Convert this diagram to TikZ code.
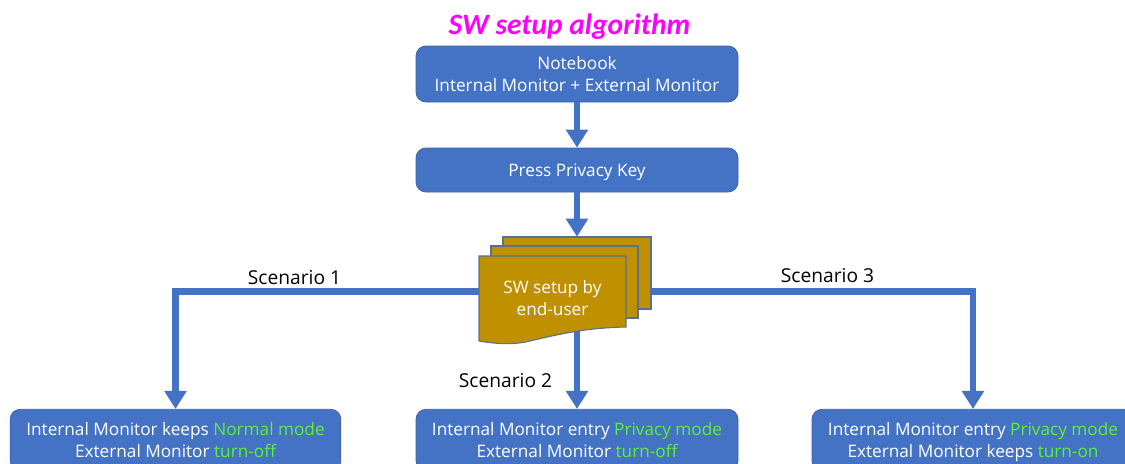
\documentclass[tikz,border=0pt]{standalone}
\usepackage{fontspec}
\setmainfont{Open Sans}
\newfontfamily\titlefont{Carlito}
\usetikzlibrary{arrows.meta}
\definecolor{boxblue}{HTML}{4472C4}
\definecolor{boxedge}{HTML}{3F62A6}
\definecolor{docgold}{HTML}{BF9000}
\definecolor{docedge}{HTML}{5B7090}
\definecolor{hi}{HTML}{5CF03C}
\definecolor{titlecol}{HTML}{FF00FF}
\newcommand{\topstrut}{\rule{0pt}{14.55pt}}
\tikzset{
  x=0.75pt,y=-0.75pt,
  flowbox/.style={draw=boxedge,line width=0.6pt,fill=boxblue,rounded corners=7.5pt,text=white,align=center,
    font=\fontsize{12.9}{16.5}\selectfont,inner sep=0pt},
  flow/.style={draw=boxblue,line width=5pt,line join=miter,-{Triangle[width=16pt,length=13.5pt]}},
  page/.style={draw=docedge,line width=0.8pt,fill=docgold},
  lbl/.style={font=\fontsize{14.4}{17}\selectfont,text=black,inner sep=0pt},
}
\begin{document}
\begin{tikzpicture}
\useasboundingbox (0,0) rectangle (1125,464);
\clip (0,0) rectangle (1125,464);
\node[font=\titlefont\bfseries\itshape\fontsize{22.1}{26}\selectfont,text=titlecol,inner sep=0pt] (title) at (569.5,26.5) {SW setup algorithm};
\node[flowbox,minimum width=241.5pt,minimum height=42pt] (nb) at (577,74) {\topstrut Notebook\strut\\Internal Monitor + External Monitor\strut};
\node[flowbox,minimum width=241.5pt,minimum height=33pt] (key) at (577,170) {\topstrut Press Privacy Key\strut};
\node[flowbox,minimum width=248pt,minimum height=46pt] (left) at (175.5,440) {\topstrut Internal Monitor keeps \textcolor{hi}{Normal mode}\strut\\External Monitor \textcolor{hi}{turn-off}\strut};
\node[flowbox,minimum width=241.5pt,minimum height=46pt] (mid) at (577,440) {\topstrut Internal Monitor entry \textcolor{hi}{Privacy mode}\strut\\External Monitor \textcolor{hi}{turn-off}\strut};
\node[flowbox,minimum width=241.5pt,minimum height=46pt] (right) at (973,440) {\topstrut Internal Monitor entry \textcolor{hi}{Privacy mode}\strut\\External Monitor keeps \textcolor{hi}{turn-on}\strut};
\node[minimum width=110pt,minimum height=66pt,inner sep=0pt] (doc) at (552.5,300) {};
\node[minimum width=111pt,minimum height=54pt,inner sep=0pt] (docback) at (577,273) {};
\coordinate (turnL) at (175.5,291.5);
\coordinate (turnR) at (973,291.5);
\coordinate (docB) at (577,330);
\draw[flow] (nb) -- (key);
\draw[flow] (key.south) -- (docback.north);
\draw[flow] (doc.west |- turnL) -- (turnL) -- (left.north);
\draw[flow] (docback.east |- turnR) -- (turnR) -- (right.north);
\draw[flow] (docB) -- (mid.north);
\draw[page] (503,237) rectangle (651,309);
\draw[page] (491,246) rectangle (638,318);
\draw[page] (479,256) -- (626,256) -- (626,327) .. controls (585,328) and (560,334) .. (530,341) .. controls (515,345) and (495,344) .. (479,341) -- cycle;
\node[text=white,align=center,font=\fontsize{12.9}{16.5}\selectfont,inner sep=0pt] (doctext) at (552.5,300) {SW setup by\strut\\end-user\strut};
\node[lbl] (s1) at (294.5,277.5) {Scenario 1};
\node[lbl] (s2) at (505.5,381) {Scenario 2};
\node[lbl] (s3) at (827.5,276) {Scenario 3};
\end{tikzpicture}
\end{document}
